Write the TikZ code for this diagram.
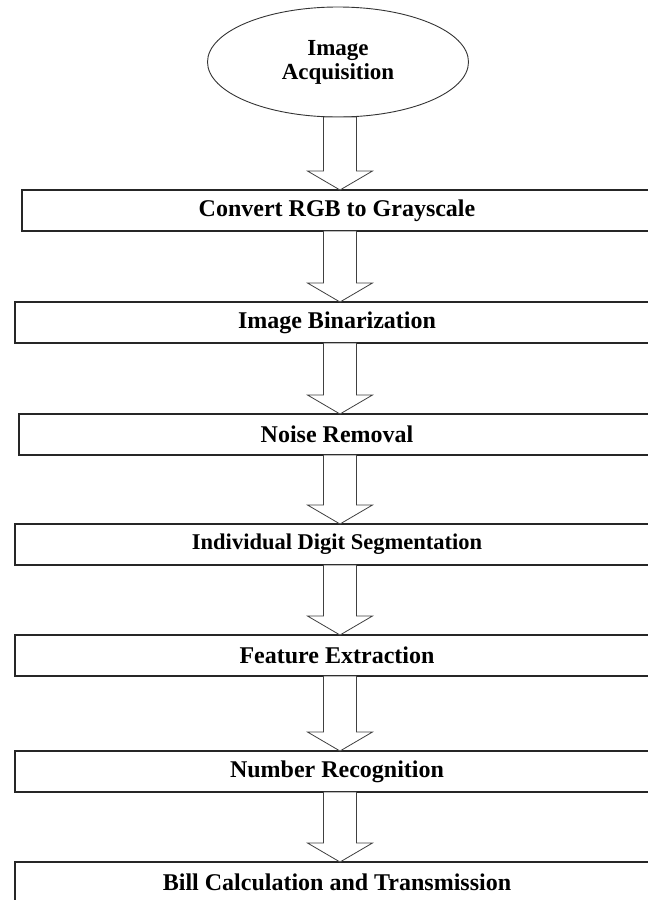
\documentclass[tikz,border=0pt]{standalone}
\usepackage{fontspec}
\setmainfont{Liberation Serif}
\usepackage{tikz}
\usetikzlibrary{positioning,calc,shapes.geometric}

\begin{document}
\begin{tikzpicture}[
  x=1pt,y=1pt,
  node distance=71pt,
  start/.style={draw=black!80,line width=0.9pt,ellipse,align=center,
                minimum width=261pt,minimum height=110pt,inner sep=0pt,outer sep=0pt,
                font=\fontsize{23}{24}\selectfont\bfseries},
  stage/.style={draw=black!85,line width=1.1pt,rectangle,align=center,
                minimum width=644pt,minimum height=41pt,inner sep=0pt,outer sep=0pt,
                font=\fontsize{24}{26}\selectfont\bfseries},
  blockarr/.style={draw=black!75,line width=0.8pt,fill=white,line join=miter}
]
\clip (0,0) rectangle (648,-900);
\node[start] (acq) at (338,-62) {Image\\Acquisition};
\node[stage,minimum width=630pt,below=73pt of acq.south,anchor=north,xshift=-1pt] (gray) {Convert RGB to Grayscale};
\node[stage,below=of gray] (bin) {Image Binarization};
\node[stage,minimum width=636pt,below=of bin] (noise) {Noise Removal};
\node[stage,below=69pt of noise,font=\fontsize{22.5}{24}\selectfont\bfseries] (seg) {Individual Digit Segmentation};
\node[stage,below=70pt of seg] (feat) {Feature Extraction};
\node[stage,below=75pt of feat] (recog) {Number Recognition};
\node[stage,below=70pt of recog] (bill) {Bill Calculation and Transmission};
% hollow block arrows between the stages
\foreach \a/\b in {acq/gray,gray/bin,bin/noise,noise/seg,seg/feat,feat/recog,recog/bill}
  \draw[blockarr] let \p1=(\a.south), \p2=(\b.north) in
    (\x2+3-16.5,\y1) -- (\x2+3+16.5,\y1) -- (\x2+3+16.5,\y2+19)
    -- (\x2+3+32.5,\y2+19) -- (\x2+3,\y2) -- (\x2+3-32.5,\y2+19)
    -- (\x2+3-16.5,\y2+19) -- cycle;
\end{tikzpicture}
\end{document}
